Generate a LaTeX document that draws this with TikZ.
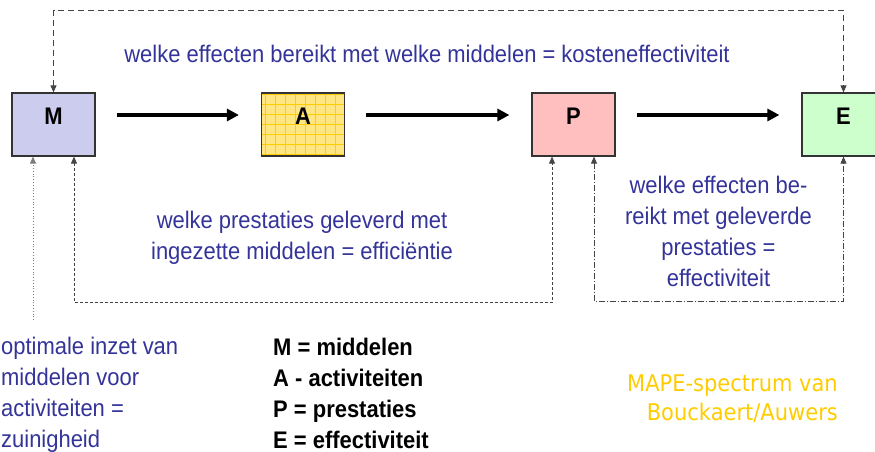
\documentclass[tikz,border=0pt]{standalone}
\usepackage{fontspec}
\setmainfont{Liberation Sans}[FakeStretch=0.915]
\newfontfamily\mapefont{DejaVu Sans}[FakeStretch=0.913]
\usetikzlibrary{arrows.meta}

\definecolor{tekstblauw}{HTML}{333399}
\definecolor{mapegeel}{HTML}{FFCC00}
\definecolor{mblauw}{HTML}{CCCCEE}
\definecolor{ageel}{HTML}{FFE680}
\definecolor{agrid}{HTML}{FFCC00}
\definecolor{prood}{HTML}{FFBFBF}
\definecolor{egroen}{HTML}{CCFFCC}
\definecolor{rand}{HTML}{333333}
\definecolor{lijngrijs}{HTML}{444444}

\begin{document}
\begin{tikzpicture}[x=1pt, y=-1pt,
  blok/.style={draw=rand, line width=1.2pt, minimum width=83pt, minimum height=63pt,
    inner sep=0pt, font=\fontsize{24}{28}\selectfont\bfseries, text height=17.5pt, text depth=18pt},
  rooster/.style={path picture={\draw[agrid, line width=0.6pt]
    (path picture bounding box.south west) grid[step=10pt] (path picture bounding box.north east);}},
  pijl/.style={line width=3.5pt, -{Triangle[length=12pt,width=12pt]}, shorten <=21pt, shorten >=22pt},
  tweepunt/.style={lijngrijs, line width=0.8pt,
    {Triangle[length=7pt,width=6pt]}-{Triangle[length=7pt,width=6pt]}},
  uitleg/.style={text=tekstblauw, font=\fontsize{24}{31}\selectfont, inner sep=0pt},
  legenda/.style={font=\fontsize{24}{31}\selectfont\bfseries, inner sep=0pt, align=left, anchor=north west},
]
%\draw [lightgray](0,0) grid (875,452);
\useasboundingbox (0,0) rectangle (875,452);

\node [blok, fill=mblauw] (M) at (53.5,124.5) {M};
\node [blok, fill=ageel, rooster] (A) at (303,124.5) {A};
\node [blok, fill=prood] (P) at (573.5,124.5) {P};
\node [blok, fill=egroen] (E) at (843.5,124.5) {E};

\draw [pijl] ([yshift=9.5pt]M.east) -- ([yshift=9.5pt]A.west);
\draw [pijl] ([yshift=9.5pt]A.east) -- ([yshift=9.5pt]P.west);
\draw [pijl] ([yshift=9.5pt]P.east) -- ([yshift=9.5pt]E.west);

\draw [tweepunt, dash pattern=on 6pt off 4pt] (M.north) -- ++(0,-82) -| (E.north);
\draw [tweepunt, dash pattern=on 3pt off 2pt] ([xshift=20.5pt]M.south) -- ++(0,146) -| ([xshift=-21.5pt]P.south);
\draw [tweepunt, dash pattern=on 6pt off 2pt on 1pt off 2pt] ([xshift=20.5pt]P.south) -- ++(0,145) -| (E.south);

\coordinate (zuinig) at (33,320);
\draw [lijngrijs!70, line width=0.8pt, dotted, -{Triangle[length=7pt,width=6pt]}] (zuinig) -- (zuinig |- M.south);

\node [uitleg, anchor=base] (kosten) at (427,63) {welke effecten bereikt met welke middelen = kosteneffectiviteit};
\node [uitleg, anchor=north, align=center] (efficient) at (302,210.5) {welke prestaties geleverd met\\ingezette middelen = effici\"entie};
\node [uitleg, anchor=north, align=center] (effectief) at (718.5,175.5) {welke effecten be-\\reikt met geleverde\\prestaties =\\effectiviteit};
\node [uitleg, anchor=north west, align=left] (zuinigheid) at (1,336.5) {optimale inzet van\\middelen voor\\activiteiten =\\zuinigheid};

\node [legenda] (legenda) at (273,337.5) {M = middelen\\A - activiteiten\\P = prestaties\\E = effectiviteit};

\node [text=mapegeel, font=\mapefont\fontsize{23}{29}\selectfont, inner sep=0pt, align=right, anchor=north east] (mape) at (838,375) {MAPE-spectrum van\\Bouckaert/Auwers};

\end{tikzpicture}
\end{document}
